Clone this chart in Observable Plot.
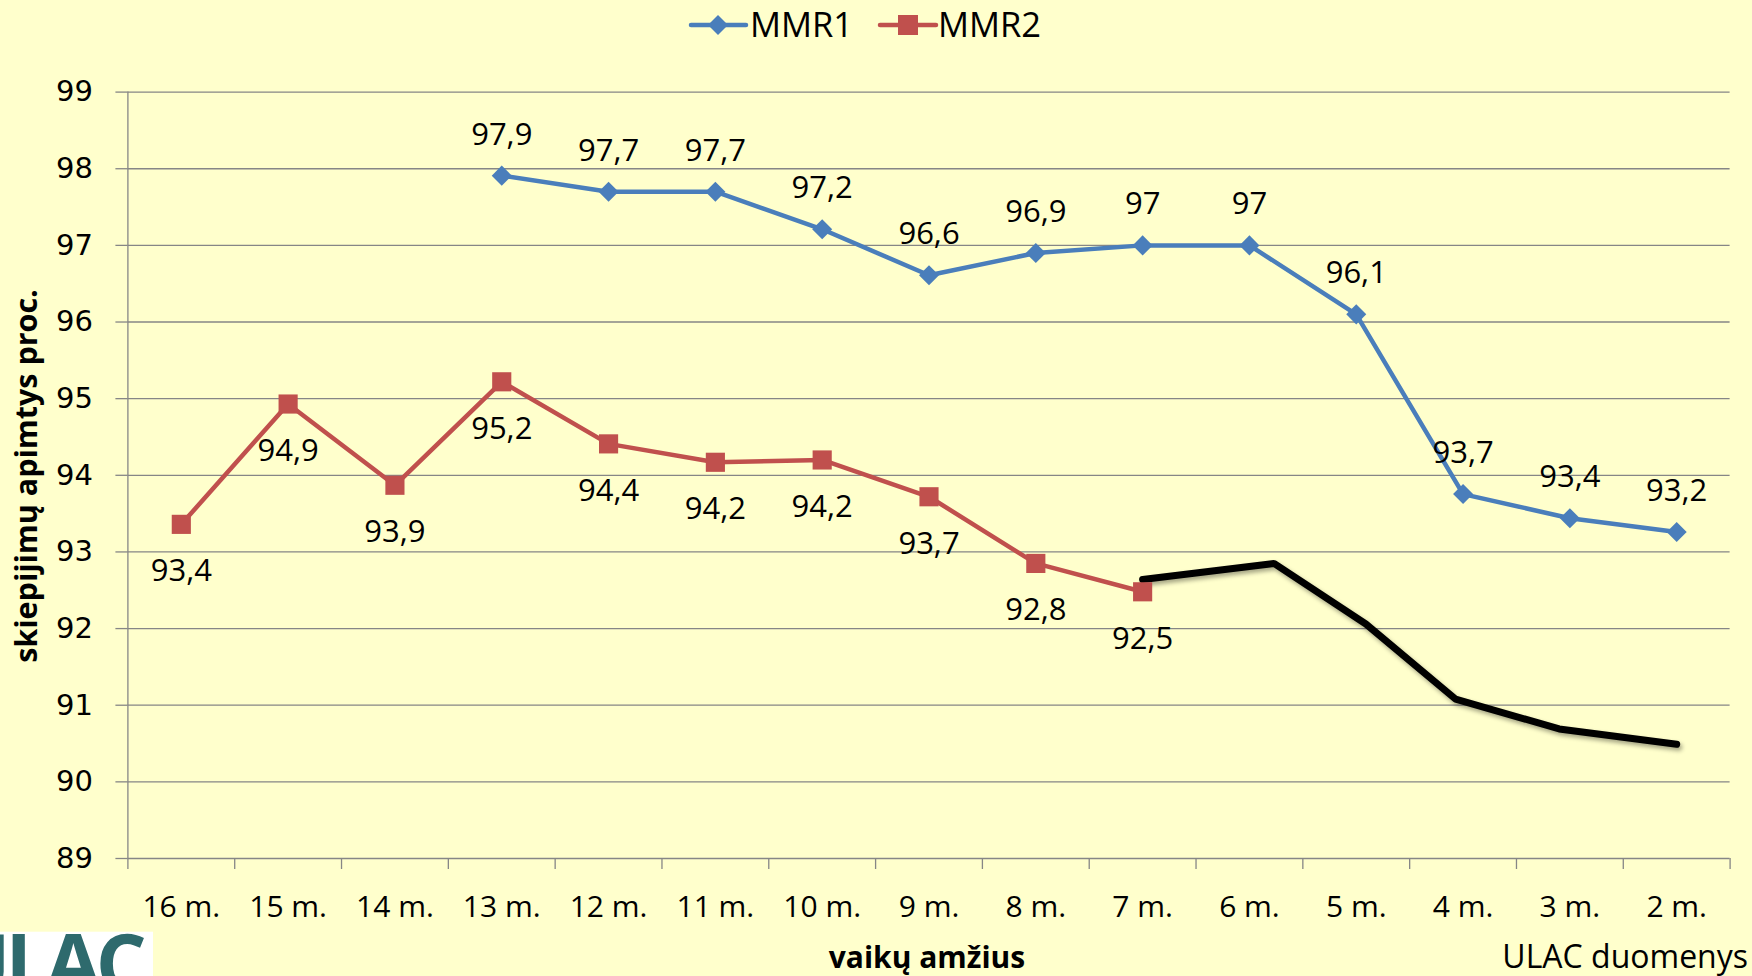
<!DOCTYPE html>
<html>
<head>
<meta charset="utf-8">
<script src="https://cdn.jsdelivr.net/npm/d3@7"></script>
<script src="https://cdn.jsdelivr.net/npm/@observablehq/plot@0.6"></script>
<style>
  html, body { margin: 0; padding: 0; background: #FFFFCC; }
  #wrap { position: relative; width: 1752px; height: 976px; overflow: hidden; background: #FFFFCC; }
  #chart { position: absolute; left: 0; top: 0; }
  #overlay { position: absolute; left: 0; top: 0; pointer-events: none; }
  .shadow { filter: drop-shadow(2px 3px 2px rgba(0,0,0,0.35)); }
</style>
</head>
<body>
<div id="wrap">
  <div id="chart"></div>
  <svg id="overlay" width="1752" height="976" xmlns="http://www.w3.org/2000/svg">
    <defs>
      <clipPath id="logoClip"><rect x="0" y="931.7" width="153" height="44.3"></rect></clipPath>
    </defs>
    <!-- legend -->
    <g font-family="Open Sans" font-size="34.5" fill="#000">
      <line x1="691" x2="746" y1="25" y2="25" stroke="#4A7EBB" stroke-width="4.5" stroke-linecap="round"></line>
      <polygon points="718,15 728,25 718,35 708,25" fill="#4A7EBB"></polygon>
      <text x="750" y="37">MMR1</text>
      <line x1="880" x2="936" y1="25" y2="25" stroke="#C0504D" stroke-width="4.5" stroke-linecap="round"></line>
      <rect x="898" y="15" width="20" height="20" fill="#C0504D"></rect>
      <text x="938" y="37">MMR2</text>
    </g>
    <!-- axis titles -->
    <text transform="translate(37,476) rotate(-90)" text-anchor="middle" font-family="Open Sans" font-weight="bold" font-size="30.5" fill="#000">skiepijimų apimtys proc.</text>
    <text x="927" y="968" text-anchor="middle" font-family="Open Sans" font-weight="bold" font-size="30" fill="#000">vaikų amžius</text>
    <text x="1748" y="968" text-anchor="end" font-family="Open Sans" font-size="32" fill="#000">ULAC duomenys</text>
    <!-- logo -->
    <rect x="0" y="931.7" width="153" height="44.3" fill="#FFFFFF"></rect>
    <text x="-50" y="992" clip-path="url(#logoClip)" font-family="Open Sans" font-weight="bold" font-size="80" letter-spacing="-5" fill="#2E6A6D">ULAC</text>
  </svg>
</div>
<script>
// ---- data ----
const categories = ["16 m.", "15 m.", "14 m.", "13 m.", "12 m.", "11 m.", "10 m.", "9 m.", "8 m.", "7 m.", "6 m.", "5 m.", "4 m.", "3 m.", "2 m."];
// plotted values
const mmr1 = [null, null, null, 97.91, 97.7, 97.7, 97.21, 96.61, 96.9, 97.0, 97.0, 96.1, 93.755, 93.44, 93.26];
const mmr2 = [93.36, 94.93, 93.87, 95.22, 94.41, 94.17, 94.2, 93.72, 92.85, 92.48, null, null, null, null, null];
// data labels as printed on the chart
const mmr1Labels = [null, null, null, "97,9", "97,7", "97,7", "97,2", "96,6", "96,9", "97", "97", "96,1", "93,7", "93,4", "93,2"];
const mmr2Labels = ["93,4", "94,9", "93,9", "95,2", "94,4", "94,2", "94,2", "93,7", "92,8", "92,5", null, null, null, null, null];
// hand-drawn black trend line (position along category index, value)
const trendPos = [9, 10.23, 11.09, 11.93, 12.9, 14];
const trendVal = [92.64, 92.85, 92.06, 91.08, 90.69, 90.49];
const yTicks = [89, 90, 91, 92, 93, 94, 95, 96, 97, 98, 99];

// ---- tables ----
const rows1 = categories.map((c, i) => ({i, c, v: mmr1[i], t: mmr1Labels[i]})).filter(d => d.v != null);
const rows2 = categories.map((c, i) => ({i, c, v: mmr2[i], t: mmr2Labels[i]})).filter(d => d.v != null);
const trend = trendPos.map((p, k) => ({p, v: trendVal[k]}));
const catIdx = categories.map((c, i) => i);
const bounds = d3.range(categories.length + 1).map(i => i - 0.5);

const grid = "#868686";

const chart = Plot.plot({
  width: 1752,
  height: 976,
  marginLeft: 127.4,
  marginRight: 22.4,
  marginTop: 91.6,
  marginBottom: 118,
  style: {background: "transparent", fontFamily: "Open Sans", color: "#000", overflow: "visible"},
  x: {type: "linear", domain: [-0.5, categories.length - 0.5]},
  y: {domain: [89, 99]},
  marks: [
    Plot.ruleY(yTicks, {stroke: grid, strokeWidth: 1.3}),
    Plot.axisY({ticks: yTicks, tickSize: 12, tickPadding: 23, stroke: grid, strokeWidth: 1.3, fill: "#000",
      fontFamily: "DejaVu Sans", fontSize: 29, tickFormat: d => String(d), label: null}),
    Plot.ruleX([-0.5], {stroke: grid, strokeWidth: 1.3}),
    Plot.axisX({ticks: bounds, tickSize: 11, stroke: grid, strokeWidth: 1.3, tickFormat: () => "", label: null}),
    Plot.axisX({ticks: catIdx, tickSize: 0, tickPadding: 37, fontSize: 30, fill: "#000",
      tickFormat: i => categories[i], label: null}),
    // black hand-drawn line
    Plot.line(trend, {x: "p", y: "v", stroke: "#000", strokeWidth: 7, strokeLinejoin: "bevel", className: "shadow"}),
    // MMR2
    Plot.line(rows2, {x: "i", y: "v", stroke: "#C0504D", strokeWidth: 4.5}),
    Plot.dot(rows2, {x: "i", y: "v", symbol: "square", r: 10.8, fill: "#C0504D", stroke: null}),
    Plot.text(rows2, {x: "i", y: "v", text: "t", dy: 47, fontSize: 31, fill: "#000"}),
    // MMR1
    Plot.line(rows1, {x: "i", y: "v", stroke: "#4A7EBB", strokeWidth: 4.5}),
    Plot.dot(rows1, {x: "i", y: "v", symbol: "square", r: 8, rotate: 45, fill: "#4A7EBB", stroke: null}),
    Plot.text(rows1, {x: "i", y: "v", text: "t", dy: -41, fontSize: 31, fill: "#000"})
  ]
});
document.getElementById("chart").appendChild(chart);
</script>
</body>
</html>
